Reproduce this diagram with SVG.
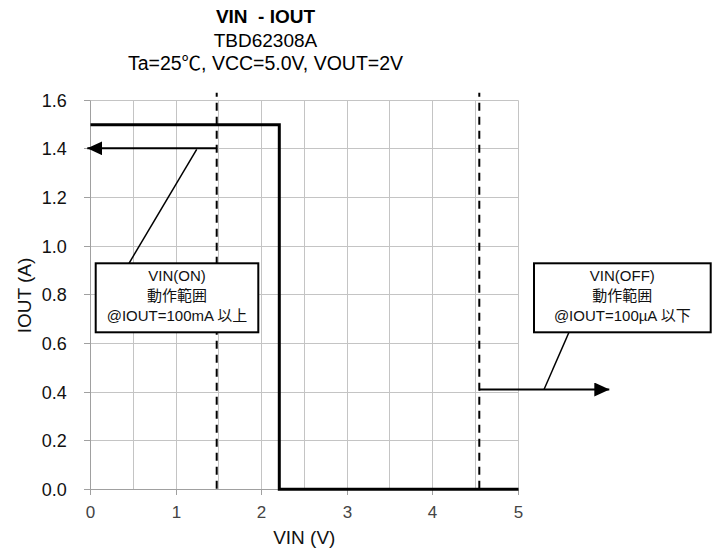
<svg xmlns="http://www.w3.org/2000/svg" width="718" height="556" viewBox="0 0 718 556">
<style>
text{font-family:"Liberation Sans","Noto Sans CJK JP",sans-serif;fill:#000}
.title{font-size:19px;text-anchor:middle}
.ylab{font-size:18px;text-anchor:end;fill:#111}
.xlab{font-size:17px;text-anchor:middle;fill:#444}
.axt{font-size:19px;text-anchor:middle;fill:#111}
.box{fill:#fff;stroke:#000;stroke-width:2}
.bt{font-size:15px;text-anchor:middle;fill:#111}
.grid line{stroke:#c4c4c4;stroke-width:1}
.axis line{stroke:#a0a0a0;stroke-width:1}
.dash{stroke:#000;stroke-width:2;stroke-dasharray:8 6;fill:none}
.lead{stroke:#000;stroke-width:1.5;fill:none}
.arr{stroke:#000;stroke-width:2;fill:none}
</style>
<defs>
<marker id="ah" viewBox="0 0 15 14" refX="15" refY="7" markerWidth="15" markerHeight="14" markerUnits="userSpaceOnUse" orient="auto">
<path d="M0,0 L15,7 L0,14 Z" fill="#000"/>
</marker>
</defs>
<rect width="718" height="556" fill="#fff"/>
<g id="title">
<text class="title" x="265.5" y="23.3" font-weight="bold" xml:space="preserve">VIN  - IOUT</text>
<text class="title" x="265.5" y="46.7">TBD62308A</text>
<text class="title" x="265.5" y="70" style="font-size:19.5px">Ta=25℃, VCC=5.0V, VOUT=2V</text>
</g>
<g id="grid" class="grid">
<line x1="133.5" y1="100.5" x2="133.5" y2="489.5"/>
<line x1="176.5" y1="100.5" x2="176.5" y2="489.5"/>
<line x1="218.5" y1="100.5" x2="218.5" y2="489.5"/>
<line x1="261.5" y1="100.5" x2="261.5" y2="489.5"/>
<line x1="304.5" y1="100.5" x2="304.5" y2="489.5"/>
<line x1="347.5" y1="100.5" x2="347.5" y2="489.5"/>
<line x1="389.5" y1="100.5" x2="389.5" y2="489.5"/>
<line x1="432.5" y1="100.5" x2="432.5" y2="489.5"/>
<line x1="475.5" y1="100.5" x2="475.5" y2="489.5"/>
<line x1="518.5" y1="100.5" x2="518.5" y2="489.5"/>
<line x1="90.5" y1="100.5" x2="518.5" y2="100.5"/>
<line x1="90.5" y1="148.5" x2="518.5" y2="148.5"/>
<line x1="90.5" y1="197.5" x2="518.5" y2="197.5"/>
<line x1="90.5" y1="246.5" x2="518.5" y2="246.5"/>
<line x1="90.5" y1="294.5" x2="518.5" y2="294.5"/>
<line x1="90.5" y1="343.5" x2="518.5" y2="343.5"/>
<line x1="90.5" y1="392.5" x2="518.5" y2="392.5"/>
<line x1="90.5" y1="440.5" x2="518.5" y2="440.5"/>
</g>
<g id="axes" class="axis">
<line x1="90.5" y1="100.5" x2="90.5" y2="495"/>
<line x1="84" y1="489.5" x2="518.5" y2="489.5"/>
<line x1="84" y1="100.5" x2="90.5" y2="100.5"/>
<line x1="84" y1="148.5" x2="90.5" y2="148.5"/>
<line x1="84" y1="197.5" x2="90.5" y2="197.5"/>
<line x1="84" y1="246.5" x2="90.5" y2="246.5"/>
<line x1="84" y1="294.5" x2="90.5" y2="294.5"/>
<line x1="84" y1="343.5" x2="90.5" y2="343.5"/>
<line x1="84" y1="392.5" x2="90.5" y2="392.5"/>
<line x1="84" y1="440.5" x2="90.5" y2="440.5"/>
<line x1="176.5" y1="489.5" x2="176.5" y2="495"/>
<line x1="261.5" y1="489.5" x2="261.5" y2="495"/>
<line x1="347.5" y1="489.5" x2="347.5" y2="495"/>
<line x1="432.5" y1="489.5" x2="432.5" y2="495"/>
<line x1="518.5" y1="489.5" x2="518.5" y2="495"/>
</g>
<g id="ylabels">
<text class="ylab" x="66.7" y="106.8">1.6</text>
<text class="ylab" x="66.7" y="155">1.4</text>
<text class="ylab" x="66.7" y="203.8">1.2</text>
<text class="ylab" x="66.7" y="252.8">1.0</text>
<text class="ylab" x="66.7" y="300.8">0.8</text>
<text class="ylab" x="66.7" y="349.8">0.6</text>
<text class="ylab" x="66.7" y="398.8">0.4</text>
<text class="ylab" x="66.7" y="446.8">0.2</text>
<text class="ylab" x="66.7" y="495.8">0.0</text>
</g>
<g id="xlabels">
<text class="xlab" x="90.5" y="518.3">0</text>
<text class="xlab" x="176.5" y="518.3">1</text>
<text class="xlab" x="261.5" y="518.3">2</text>
<text class="xlab" x="347.5" y="518.3">3</text>
<text class="xlab" x="432.5" y="518.3">4</text>
<text class="xlab" x="518.5" y="518.3">5</text>
</g>
<g id="axis-titles">
<text class="axt" x="304.3" y="544">VIN (V)</text>
<text class="axt" transform="translate(30.5,295.5) rotate(-90)" x="0" y="0">IOUT (A)</text>
</g>
<g id="series">
<path d="M90.5,124.7 H279.3 V489.3 H518.5" fill="none" stroke="#000" stroke-width="3" stroke-linejoin="miter"/>
</g>
<g id="connectors">
<line class="dash" x1="216.7" y1="92.7" x2="216.7" y2="489.3" stroke-dashoffset="4"/>
<line class="dash" x1="479.3" y1="92.7" x2="479.3" y2="489.3" stroke-dashoffset="4"/>
<line class="arr" x1="216.7" y1="148.3" x2="87.3" y2="148.3" marker-end="url(#ah)"/>
<line class="arr" x1="479.3" y1="389.5" x2="609.3" y2="389.5" marker-end="url(#ah)"/>
<line class="lead" x1="196.7" y1="149.3" x2="129" y2="263.3"/>
<line class="lead" x1="569" y1="332.3" x2="544" y2="389.5"/>
</g>
<g id="box-on">
<rect class="box" x="95.7" y="263.3" width="162.6" height="69"/>
<text class="bt" x="177" y="280.7">VIN(ON)</text>
<text class="bt" x="177" y="300.5">動作範囲</text>
<text class="bt" x="177" y="320.5">@IOUT=100mA 以上</text>
</g>
<g id="box-off">
<rect class="box" x="534" y="263.3" width="176.7" height="69"/>
<text class="bt" x="622.3" y="280.7">VIN(OFF)</text>
<text class="bt" x="622.3" y="300.5">動作範囲</text>
<text class="bt" x="622.3" y="320.5">@IOUT=100µA 以下</text>
</g>
</svg>
